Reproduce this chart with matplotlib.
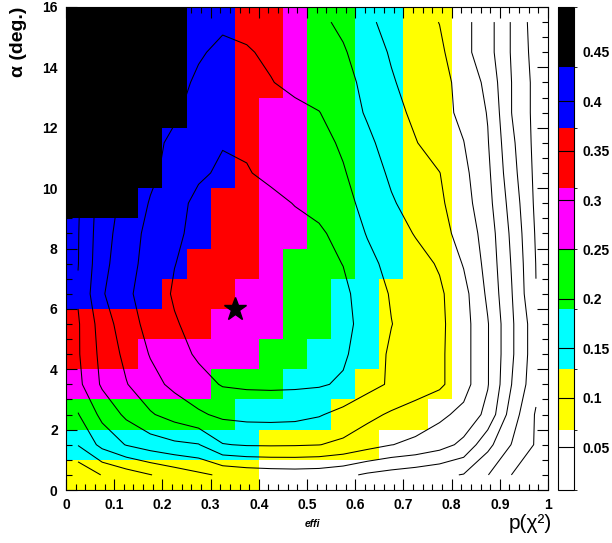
import numpy as np
import matplotlib
matplotlib.use("Agg")
from matplotlib import pyplot as plt
from matplotlib.colors import ListedColormap, BoundaryNorm
from matplotlib.ticker import MultipleLocator, FixedLocator

plt.rcParams['font.family'] = ['Liberation Sans', 'DejaVu Sans']

# binning of both histograms
x_edges = np.arange(0, 1.0001, 0.05)
y_edges = np.arange(0, 16.001, 1.0)
x_centers = 0.5 * (x_edges[:-1] + x_edges[1:])
y_centers = 0.5 * (y_edges[:-1] + y_edges[1:])

# p(chi2) per bin (rows from y=0 upwards)
W, Y, C, G, M, R, B, K = 0.03, 0.09, 0.155, 0.215, 0.28, 0.34, 0.40, 0.465
p_chi2 = [
    [Y] * 8 + [W] * 12,
    [C] * 8 + [Y] * 5 + [W] * 7,
    [G] * 7 + [C] * 4 + [Y] * 4 + [W] * 5,
    [M] * 6 + [G] * 3 + [C] * 3 + [Y] * 4 + [W] * 4,
    [R] * 3 + [M] * 5 + [G] * 2 + [C] * 3 + [Y] * 3 + [W] * 4,
    [R] * 6 + [M] * 3 + [G] * 2 + [C] * 2 + [Y] * 3 + [W] * 4,
    [B] * 4 + [R] * 3 + [M] * 2 + [G] * 2 + [C] * 2 + [Y] * 3 + [W] * 4,
    [B] * 5 + [R] * 3 + [M] * 1 + [G] * 3 + [C] * 2 + [Y] * 2 + [W] * 4,
    [B] * 6 + [R] * 2 + [M] * 2 + [G] * 2 + [C] * 2 + [Y] * 2 + [W] * 4,
    [K] * 3 + [B] * 3 + [R] * 2 + [M] * 2 + [G] * 2 + [C] * 2 + [Y] * 2 + [W] * 4,
    [K] * 4 + [B] * 3 + [R] * 1 + [M] * 2 + [G] * 2 + [C] * 2 + [Y] * 2 + [W] * 4,
    [K] * 4 + [B] * 3 + [R] * 1 + [M] * 2 + [G] * 2 + [C] * 2 + [Y] * 2 + [W] * 4,
    [K] * 5 + [B] * 2 + [R] * 1 + [M] * 2 + [G] * 2 + [C] * 2 + [Y] * 2 + [W] * 4,
    [K] * 5 + [B] * 2 + [R] * 2 + [M] * 1 + [G] * 2 + [C] * 2 + [Y] * 2 + [W] * 4,
    [K] * 5 + [B] * 2 + [R] * 2 + [M] * 1 + [G] * 2 + [C] * 2 + [Y] * 2 + [W] * 4,
    [K] * 5 + [B] * 2 + [R] * 2 + [M] * 1 + [G] * 2 + [C] * 2 + [Y] * 2 + [W] * 4,
]

# efficiency per bin (contour overlay), rows from y=0 upwards
effi = [
    [2.2, 3.05, 3.5, 3.97, 4.39, 4.8, 5.15, 5.35, 5.45, 5.5, 5.45, 5.25, 4.85, 4.6, 4.4, 4.2, 3.95, 3.03, 1.98, 1.2],
    [4.05, 5.3, 6.05, 6.5, 6.8, 6.95, 7.95, 8.08, 8.1, 8.08, 8.02, 7.8, 7.4, 7.02, 6.8, 6.4, 5.75, 4.3, 2.95, 1.9],
    [4.95, 6.27, 7.2, 7.9, 8.4, 8.86, 9.2, 9.3, 9.32, 9.28, 9.08, 8.7, 8.26, 7.87, 7.54, 7.22, 6.72, 5.72, 3.5, 1.9],
    [5.75, 7.15, 7.95, 8.67, 9.23, 9.65, 10.07, 10.15, 10.17, 10.15, 10.1, 9.87, 9.33, 8.87, 8.52, 8.17, 7.4, 6.06, 3.98, 2.3],
    [5.9, 7.3, 8.25, 9.06, 9.6, 10.15, 10.4, 10.45, 10.45, 10.4, 10.35, 10.15, 9.46, 8.87, 8.52, 8.17, 7.4, 6.06, 4.14, 2.4],
    [5.9, 7.47, 8.57, 9.32, 9.92, 10.3, 10.55, 10.6, 10.6, 10.55, 10.45, 10.25, 9.67, 9.02, 8.6, 8.2, 7.4, 6.06, 4.14, 2.4],
    [6.1, 7.9, 8.8, 9.5, 10.1, 10.4, 10.6, 10.65, 10.6, 10.5, 10.4, 10.2, 9.55, 8.92, 8.54, 8.16, 7.33, 5.82, 4.03, 2.02],
    [5.97, 7.7, 8.65, 9.36, 9.98, 10.3, 10.5, 10.55, 10.5, 10.4, 10.3, 9.98, 9.24, 8.74, 8.35, 7.9, 6.93, 5.67, 3.92, 1.98],
    [5.95, 7.6, 8.5, 9.3, 9.8, 10.3, 10.4, 10.4, 10.35, 10.25, 10.2, 9.56, 8.95, 8.45, 7.94, 7.35, 6.64, 5.55, 3.79, 1.9],
    [5.9, 7.5, 8.3, 9.07, 9.66, 10.25, 10.35, 10.3, 10.2, 9.97, 9.61, 9.24, 8.77, 8.1, 7.62, 7.17, 6.39, 5.33, 3.6, 1.8],
    [5.9, 7.5, 8.3, 8.8, 9.36, 9.85, 10.15, 10.05, 9.83, 9.58, 9.33, 9.08, 8.48, 7.84, 7.43, 7.02, 6.24, 5.2, 3.36, 1.75],
    [5.9, 7.5, 8.3, 8.6, 9.3, 9.7, 9.95, 9.9, 9.75, 9.55, 9.3, 8.86, 8.2, 7.6, 7.05, 6.53, 6.02, 5.06, 3.2, 1.7],
    [5.9, 7.5, 8.3, 8.5, 8.8, 9.6, 9.75, 9.7, 9.5, 9.3, 9.03, 8.47, 7.9, 7.33, 6.8, 6.33, 5.77, 4.95, 2.98, 1.7],
    [5.9, 7.5, 8.3, 8.4, 8.4, 9.3, 9.6, 9.4, 9.05, 8.7, 8.5, 8.25, 7.8, 7.1, 6.6, 6.2, 5.8, 4.7, 2.98, 1.7],
    [5.9, 7.5, 8.3, 8.4, 8.5, 8.8, 9.4, 9.1, 8.8, 8.6, 8.4, 8.1, 7.5, 6.9, 6.5, 6.2, 5.3, 4.4, 2.9, 1.6],
    [5.9, 7.5, 8.3, 8.4, 8.5, 8.6, 8.7, 8.7, 8.6, 8.5, 8.2, 7.8, 7.15, 6.75, 6.4, 5.98, 5.3, 4.4, 2.9, 1.5],
]
effi_levels = [2, 3, 4, 5, 6, 7, 8, 9, 10]

best_point = (0.35, 6.0)

palette = ["#ffffff", "#ffff00", "#00ffff", "#00ff00",
           "#ff00ff", "#ff0000", "#0000ff", "#000000"]
z_min, z_max = 0.0065, 0.4955
cbar_ticks = [0.05, 0.1, 0.15, 0.2, 0.25, 0.3, 0.35, 0.4, 0.45]
cbar_labels = ["0.05", "0.1", "0.15", "0.2", "0.25", "0.3", "0.35", "0.4", "0.45"]
x_ticks = [0, 0.1, 0.2, 0.3, 0.4, 0.5, 0.6, 0.7, 0.8, 0.9, 1]
x_labels = ["0", "0.1", "0.2", "0.3", "0.4", "0.5", "0.6", "0.7", "0.8", "0.9", "1"]
y_ticks = [0, 2, 4, 6, 8, 10, 12, 14, 16]

fig = plt.figure(figsize=(6.12, 5.43), dpi=100)
ax = fig.add_axes([66 / 612, 53 / 543, 482 / 612, 483 / 543])
cax = fig.add_axes([558 / 612, 53 / 543, 16 / 612, 483 / 543])

cmap = ListedColormap(palette)
norm = BoundaryNorm(np.linspace(z_min, z_max, len(palette) + 1), cmap.N)
mesh = ax.pcolormesh(x_edges, y_edges, np.array(p_chi2), cmap=cmap, norm=norm)
ax.contour(x_centers, y_centers, np.array(effi), levels=effi_levels,
           colors="black", linewidths=0.75)
ax.plot(*best_point, marker="*", markersize=17, color="black", linestyle="none")

ax.set_xlim(0, 1)
ax.set_ylim(0, 16)
ax.xaxis.set_major_locator(FixedLocator(x_ticks))
ax.set_xticklabels(x_labels)
ax.xaxis.set_minor_locator(MultipleLocator(0.02))
ax.yaxis.set_major_locator(FixedLocator(y_ticks))
ax.yaxis.set_minor_locator(MultipleLocator(0.5))
ax.tick_params(which="both", direction="in", top=True, right=True, width=0.8)
ax.tick_params(which="major", length=8, labelsize=10, pad=6)
ax.tick_params(which="minor", length=4)
for lab in ax.get_xticklabels() + ax.get_yticklabels():
    lab.set_fontweight("bold")
for sp in ax.spines.values():
    sp.set_linewidth(0.8)

cb = fig.colorbar(mesh, cax=cax, ticks=cbar_ticks)
cb.ax.set_yticklabels(cbar_labels)
cb.ax.set_ylim(z_min, z_max)
cb.ax.tick_params(direction="in", length=11.5, width=0.8, labelsize=10, pad=6)
for lab in cb.ax.get_yticklabels():
    lab.set_fontweight("bold")
cb.outline.set_linewidth(0.8)

fig.text(0.031, 0.987, "α (deg.)", rotation=90, ha="center", va="top",
         fontsize=14, fontweight="bold")
fig.text(0.511, 0.035, "effi", ha="center", va="center",
         fontsize=7.5, fontweight="bold", fontstyle="italic")
fig.text(0.902, 0.036, "p(χ²)", ha="right", va="center", fontsize=15)

fig.savefig("out.png", dpi=100)
